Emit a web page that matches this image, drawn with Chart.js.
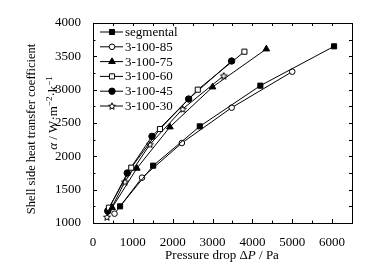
<!DOCTYPE html>
<html>
<head>
<meta charset="utf-8">
<script src="https://cdn.jsdelivr.net/npm/chart.js@4"></script>
<style>
  html, body { margin: 0; padding: 0; background: #fff; }
  #wrap { width: 391px; height: 268px; }
</style>
</head>
<body>
<div id="wrap"><canvas id="grafico" width="391" height="268"></canvas></div>
<script>
// pressure drop (Pa) and shell side coefficient (W/m2K) per configuration
const dpSegmental = [680, 1510, 2680, 4200, 6050];
const aSegmental  = [1250, 1860, 2450, 3060, 3650];
const dp85 = [540, 1230, 2230, 3480, 5000];
const a85  = [1140, 1680, 2200, 2730, 3270];
const dp75 = [480, 1100, 1930, 3000, 4350];
const a75  = [1230, 1820, 2440, 3040, 3610];
const dp60 = [400, 960, 1680, 2630, 3800];
const a60  = [1230, 1830, 2410, 3000, 3570];
const dp45 = [370, 860, 1480, 2400, 3480];
const a45  = [1180, 1750, 2300, 2860, 3430];
const dp30 = [350, 800, 1430, 2250, 3280];
const a30  = [1090, 1620, 2180, 2710, 3210];

const seriesNames = ["segmental", "3-100-85", "3-100-75", "3-100-60", "3-100-45", "3-100-30"];
const xTicks = [0, 1000, 2000, 3000, 4000, 5000, 6000];
const yTicks = [1000, 1500, 2000, 2500, 3000, 3500, 4000];

const serif = "'Liberation Serif', 'Times New Roman', serif";

// open star marker
const starImg = document.createElement('canvas');
starImg.width = 8; starImg.height = 8;
(function () {
    const c = starImg.getContext('2d');
    c.beginPath();
    for (let i = 0; i < 10; i++) {
        const r = i % 2 === 0 ? 3.6 : 1.6;
        const a = -Math.PI / 2 + i * Math.PI / 5;
        const px = 4 + r * Math.cos(a), py = 4.4 + r * Math.sin(a);
        if (i === 0) c.moveTo(px, py); else c.lineTo(px, py);
    }
    c.closePath();
    c.fillStyle = '#fff';
    c.fill();
    c.strokeStyle = '#000';
    c.lineWidth = 1;
    c.stroke();
})();

function pts(xs, ys) {
    return xs.map((x, i) => ({ x: x, y: ys[i] }));
}

function ds(i, xs, ys, style, fill, radius) {
    return {
        label: seriesNames[i],
        data: pts(xs, ys),
        borderColor: '#000',
        borderWidth: 1,
        pointStyle: style,
        pointRadius: radius,
        pointBackgroundColor: fill,
        pointBorderColor: '#000',
        pointBorderWidth: 1,
        showLine: true,
        tension: 0
    };
}

const frame = {
    id: 'frame',
    afterDraw(chart) {
        const ctx = chart.ctx;
        const a = chart.chartArea;
        const xs = chart.scales.x, ys = chart.scales.y;
        ctx.save();
        ctx.strokeStyle = '#000';
        ctx.lineWidth = 1;
        ctx.strokeRect(Math.round(a.left) + 0.5, Math.round(a.top) + 0.5,
            Math.round(a.right - a.left), Math.round(a.bottom - a.top));

        // inward ticks
        ctx.beginPath();
        for (let v = 0; v <= 6500; v += 500) {
            const px = Math.round(xs.getPixelForValue(v)) + 0.5;
            const len = v % 1000 === 0 ? 4 : 2.5;
            ctx.moveTo(px, a.bottom); ctx.lineTo(px, a.bottom - len);
            ctx.moveTo(px, a.top); ctx.lineTo(px, a.top + 3);
        }
        for (let v = 1000; v <= 4000; v += 250) {
            const py = Math.round(ys.getPixelForValue(v)) + 0.5;
            const len = v % 500 === 0 ? 4 : 2.5;
            ctx.moveTo(a.left, py); ctx.lineTo(a.left + len, py);
            ctx.moveTo(a.right, py); ctx.lineTo(a.right - 3, py);
        }
        ctx.stroke();

        // legend
        const h = Chart.helpers;
        chart.data.datasets.forEach((d, i) => {
            const y = 32 + i * 14.8;
            ctx.beginPath();
            ctx.moveTo(100, y); ctx.lineTo(123, y);
            ctx.stroke();
            ctx.fillStyle = d.pointBackgroundColor;
            ctx.strokeStyle = '#000';
            h.drawPoint(ctx, { pointStyle: d.pointStyle, radius: d.pointRadius, rotation: 0, borderWidth: 1 }, 112, y);
            ctx.fillStyle = '#000';
            ctx.font = '13px ' + serif;
            ctx.textBaseline = 'middle';
            ctx.textAlign = 'left';
            ctx.fillText(d.label, 125, y + 0.5);
        });

        // x title
        ctx.font = '13px ' + serif;
        ctx.textBaseline = 'alphabetic';
        const p1 = 'Pressure drop \u0394', p2 = 'P', p3 = ' / Pa';
        const w1 = ctx.measureText(p1).width, w3 = ctx.measureText(p3).width;
        ctx.font = 'italic 13px ' + serif;
        const w2 = ctx.measureText(p2).width;
        let tx = 222 - (w1 + w2 + w3) / 2;
        ctx.font = '13px ' + serif;
        ctx.fillText(p1, tx, 259); tx += w1;
        ctx.font = 'italic 13px ' + serif;
        ctx.fillText(p2, tx, 259); tx += w2;
        ctx.font = '13px ' + serif;
        ctx.fillText(p3, tx, 259);

        // y title
        ctx.save();
        ctx.translate(35, 129);
        ctx.rotate(-Math.PI / 2);
        ctx.font = '12.5px ' + serif;
        ctx.textAlign = 'center';
        ctx.fillText('Shell side heat transfer coefficient', 0, 0);
        ctx.restore();

        ctx.save();
        ctx.translate(57, 113);
        ctx.rotate(-Math.PI / 2);
        const parts = [
            ['italic 13px ' + serif, '\u03b1', 0],
            ['13px ' + serif, ' / W\u00b7m', 0],
            ['9px ' + serif, '\u22122', -5],
            ['13px ' + serif, '\u00b7k', 0],
            ['9px ' + serif, '\u22121', -5]
        ];
        let tot = 0;
        parts.forEach(p => { ctx.font = p[0]; tot += ctx.measureText(p[1]).width; });
        let cx = -tot / 2;
        ctx.textAlign = 'left';
        parts.forEach(p => {
            ctx.font = p[0];
            ctx.fillText(p[1], cx, p[2]);
            cx += ctx.measureText(p[1]).width;
        });
        ctx.restore();

        ctx.restore();
    }
};

const ctx = document.getElementById('grafico').getContext('2d');
const grafico = new Chart(ctx, {
    type: 'scatter',
    data: {
        datasets: [
            ds(0, dpSegmental, aSegmental, 'rect', '#000', 3.6),
            ds(1, dp85, a85, 'circle', '#fff', 2.8),
            ds(2, dp75, a75, 'triangle', '#000', 3.8),
            ds(3, dp60, a60, 'rect', '#fff', 3.6),
            ds(4, dp45, a45, 'circle', '#000', 3.2),
            ds(5, dp30, a30, starImg, '#fff', 4)
        ]
    },
    options: {
        responsive: false,
        animation: false,
        layout: { padding: { left: 0, right: 39, top: 23, bottom: 0 } },
        plugins: { legend: { display: false }, tooltip: { enabled: false } },
        scales: {
            x: {
                type: 'linear',
                min: 0,
                max: 6500,
                grid: { display: false },
                border: { display: false },
                afterBuildTicks: s => { s.ticks = xTicks.map(v => ({ value: v })); },
                afterFit: s => { s.height = 45; },
                ticks: { color: '#000', padding: 4, maxRotation: 0, font: { family: serif, size: 13 }, callback: v => String(v) }
            },
            y: {
                min: 1000,
                max: 4000,
                grid: { display: false },
                border: { display: false },
                afterBuildTicks: s => { s.ticks = yTicks.map(v => ({ value: v })); },
                afterFit: s => { s.width = 93; },
                ticks: { color: '#000', padding: 4, font: { family: serif, size: 13 }, callback: v => String(v) }
            }
        }
    },
    plugins: [frame]
});
</script>
</body>
</html>
